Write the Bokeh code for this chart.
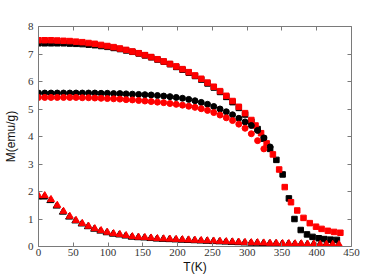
from bokeh.plotting import figure
from bokeh.models import LinearAxis, Range1d, FixedTicker
from bokeh.embed import file_html
from bokeh.resources import INLINE

# ---------------- data ----------------
t_black_sq = [0, 9, 18, 27, 36, 45, 54, 63, 72, 81, 90, 99, 108, 117, 126, 135, 144, 153, 162, 171,
              180, 189, 198, 207, 216, 225, 234, 243, 252, 261, 270, 279, 288, 297, 306, 315, 324, 333,
              342, 351, 360, 368, 377, 386, 394, 403, 411, 420, 429]
m_black_sq = [7.39, 7.39, 7.39, 7.39, 7.39, 7.38, 7.37, 7.36, 7.34, 7.32, 7.29, 7.26, 7.22, 7.18, 7.13,
              7.08, 7.02, 6.95, 6.88, 6.80, 6.72, 6.63, 6.53, 6.43, 6.32, 6.20, 6.07, 5.93, 5.78, 5.62,
              5.44, 5.25, 5.04, 4.80, 4.54, 4.27, 3.92, 3.55, 3.15, 2.62, 1.75, 1.00, 0.60, 0.44, 0.35,
              0.30, 0.27, 0.25, 0.24]

t_red_sq = [0, 9, 18, 27, 36, 45, 54, 63, 72, 81, 90, 99, 108, 117, 126, 135, 144, 153, 162, 171,
            180, 189, 198, 207, 216, 225, 234, 243, 252, 261, 270, 279, 288, 297, 306, 312, 320, 328,
            337, 346, 354, 363, 372, 381, 390, 399, 407, 416, 425, 434]
m_red_sq = [7.50, 7.50, 7.50, 7.49, 7.48, 7.47, 7.45, 7.43, 7.40, 7.37, 7.33, 7.29, 7.25, 7.20, 7.15,
            7.09, 7.03, 6.96, 6.89, 6.81, 6.73, 6.64, 6.55, 6.45, 6.34, 6.22, 6.10, 5.96, 5.81, 5.65,
            5.48, 5.29, 5.08, 4.85, 4.60, 4.40, 4.12, 3.75, 3.35, 2.80, 2.16, 1.61, 1.31, 1.04, 0.85,
            0.72, 0.64, 0.57, 0.53, 0.50]

t_black_ci = [0, 9, 18, 27, 36, 45, 54, 63, 72, 81, 90, 99, 108, 117, 126, 135, 144, 153, 162, 171,
              180, 189, 198, 207, 216, 225, 234, 243, 252, 261, 270, 279, 288, 297, 306, 315, 324, 333]
m_black_ci = [5.58, 5.58, 5.58, 5.58, 5.58, 5.58, 5.58, 5.58, 5.58, 5.58, 5.57, 5.57, 5.56, 5.56, 5.55,
              5.54, 5.53, 5.52, 5.51, 5.49, 5.47, 5.45, 5.42, 5.39, 5.35, 5.30, 5.24, 5.17, 5.09, 5.00,
              4.90, 4.79, 4.66, 4.53, 4.40, 4.22, 3.95, 3.62]

t_red_ci = [0, 9, 18, 27, 36, 45, 54, 63, 72, 81, 90, 99, 108, 117, 126, 135, 144, 153, 162, 171,
            180, 189, 198, 207, 216, 225, 234, 243, 252, 261, 270, 279, 288, 297, 306, 315, 324]
m_red_ci = [5.42, 5.42, 5.42, 5.42, 5.42, 5.42, 5.42, 5.41, 5.41, 5.40, 5.39, 5.38, 5.37, 5.36, 5.34,
            5.33, 5.31, 5.29, 5.27, 5.25, 5.23, 5.20, 5.17, 5.14, 5.10, 5.06, 5.01, 4.95, 4.87, 4.78,
            4.68, 4.58, 4.45, 4.30, 4.10, 3.85, 3.55]

t_tri = [0, 9, 18, 27, 36, 45, 54, 63, 72, 81, 90, 99, 108, 117, 126, 135, 144, 153, 162, 171,
         180, 189, 198, 207, 216, 225, 234, 243, 252, 261, 270, 279, 288, 297, 306, 315, 324, 333,
         342, 351, 360, 369, 378, 387, 396, 405, 414, 423, 432]
m_red_tri = [1.85, 1.85, 1.71, 1.50, 1.28, 1.10, 0.95, 0.84, 0.74, 0.65, 0.58, 0.52, 0.47, 0.44, 0.40,
             0.36, 0.34, 0.33, 0.31, 0.29, 0.28, 0.27, 0.26, 0.25, 0.24, 0.23, 0.22, 0.21, 0.20, 0.19,
             0.18, 0.17, 0.16, 0.15, 0.14, 0.14, 0.13, 0.12, 0.12, 0.11, 0.11, 0.10, 0.10, 0.09, 0.09,
             0.08, 0.08, 0.08, 0.07]
t_black_tri = [-1, 8, 17, 26, 35, 44, 53, 62, 71, 80, 89, 98, 107, 116, 125, 134, 143, 152, 161, 170,
               179, 188, 197, 206, 215, 224, 233, 242, 251, 260, 269, 278, 287, 296, 305, 314, 323, 332,
               341, 350, 359, 368, 377, 386, 395, 404, 413, 422, 431]
m_black_tri = [1.80, 1.80, 1.67, 1.47, 1.25, 1.07, 0.93, 0.82, 0.72, 0.63, 0.56, 0.50, 0.45, 0.42, 0.38,
               0.34, 0.32, 0.31, 0.29, 0.27, 0.26, 0.25, 0.24, 0.23, 0.22, 0.21, 0.20, 0.19, 0.18, 0.17,
               0.16, 0.15, 0.14, 0.13, 0.12, 0.12, 0.11, 0.10, 0.10, 0.09, 0.09, 0.08, 0.08, 0.07, 0.07,
               0.06, 0.06, 0.06, 0.05]

x_ticks = [0, 50, 100, 150, 200, 250, 300, 350, 400, 450]
y_ticks = [0, 1, 2, 3, 4, 5, 6, 7, 8]
x_label = "T(K)"
y_label = "M(emu/g)"

# ---------------- figure ----------------
p = figure(width=382, height=278, output_backend="svg", toolbar_location=None,
           x_range=Range1d(0, 450), y_range=Range1d(0, 8),
           min_border_left=36, min_border_right=31, min_border_top=26, min_border_bottom=32,
           background_fill_color="white", border_fill_color="white")
p.outline_line_color = None
p.grid.visible = False

frame_col = "#7a7a7a"
tick_font = "Liberation Serif"

def style_axis(ax, labels=True):
    ax.axis_line_color = frame_col
    ax.axis_line_width = 1
    ax.major_tick_line_color = frame_col
    ax.major_tick_in = 4
    ax.major_tick_out = 0
    ax.minor_tick_line_color = None
    ax.major_label_text_font = tick_font
    ax.major_label_text_font_size = "11px"
    ax.major_label_text_color = "#333333"
    ax.axis_label_text_font = "Liberation Sans"
    ax.axis_label_text_font_size = "12px"
    ax.axis_label_text_font_style = "normal"
    ax.axis_label_text_color = "#111111"

xa = p.xaxis[0]
xa.ticker = FixedTicker(ticks=x_ticks)
style_axis(xa)
xa.major_label_standoff = 2
xa.axis_label = x_label
xa.axis_label_standoff = 1
ya = p.yaxis[0]
ya.ticker = FixedTicker(ticks=y_ticks)
style_axis(ya)
ya.major_label_standoff = 5
ya.axis_label = y_label
ya.axis_label_standoff = 7

top = LinearAxis(ticker=FixedTicker(ticks=x_ticks))
style_axis(top, labels=False)
top.major_label_overrides = {t: "" for t in x_ticks}
p.add_layout(top, "above")
right = LinearAxis(ticker=FixedTicker(ticks=y_ticks))
style_axis(right, labels=False)
right.major_label_overrides = {t: "" for t in y_ticks}
p.add_layout(right, "right")

# ---------------- data marks ----------------
p.scatter(t_black_sq, m_black_sq, marker="square", size=5.5, color="black")
p.scatter(t_red_sq, m_red_sq, marker="square", size=5.5, color="red")
p.scatter(t_black_ci, m_black_ci, marker="circle", size=6, color="black")
p.scatter(t_red_ci, m_red_ci, marker="circle", size=6, color="red")
p.scatter(t_black_tri, m_black_tri, marker="triangle", size=7, color="black")
p.scatter(t_tri, m_red_tri, marker="triangle", size=7, color="red")

open("out.html", "w").write(file_html(p, INLINE))
